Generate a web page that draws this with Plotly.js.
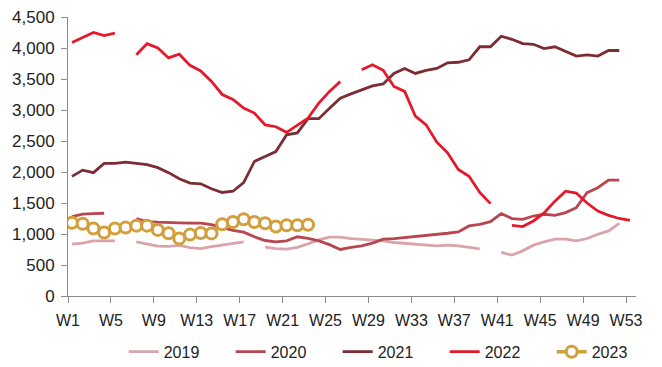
<!DOCTYPE html>
<html>
<head>
<meta charset="utf-8">
<script src="https://cdn.plot.ly/plotly-3.0.1.min.js"></script>
<style>
html,body{margin:0;padding:0;background:#fff;}
#chart{width:662px;height:367px;}
</style>
</head>
<body>
<div id="chart"></div>
<script>
// Week numbers
const weeks = Array.from({length: 53}, (_, i) => i + 1);
const tickWeeks = [1, 5, 9, 13, 17, 21, 25, 29, 33, 37, 41, 45, 49, 53];
const tickLabels = tickWeeks.map(w => 'W' + w);

const y2019 = [836, 852, 889, 889, 889, null, 873, 836, 805, 800, 815, 780, 765, 795, 820, 852, 873, null,
  790, 765, 755, 783, 840, 905, 950, 948, 927, 916, 905, 889, 863, 852, 836, 820, 809, 820, 809, 783, 760,
  null, 702, 659, 728, 820, 873, 916, 916, 889, 927, 996, 1050, 1173, null];
const y2020 = [1280, 1320, 1330, 1335, null, null, 1250, 1200, 1190, 1190, 1180, 1175, 1175, 1150, 1100, 1060,
  1030, 955, 895, 873, 889, 955, 930, 890, 828, 750, 783, 809, 852, 916, 927, 943, 959, 969, 996, 1012, 1033,
  1130, 1157, 1200, 1329, 1249, 1237, 1290, 1318, 1302, 1345, 1425, 1666, 1747, 1869, 1869, null];
const y2021 = [1930, 2030, 1990, 2140, 2140, 2160, 2140, 2120, 2070, 1990, 1890, 1820, 1810, 1730, 1670, 1690,
  1830, 2170, 2250, 2330, 2600, 2630, 2860, 2860, 3030, 3190, 3260, 3320, 3390, 3420, 3590, 3670, 3590, 3640,
  3670, 3760, 3770, 3810, 4020, 4020, 4190, 4140, 4070, 4060, 3990, 4020, 3940, 3870, 3890, 3870, 3960, 3960, null];
const y2022 = [4090, 4170, 4250, 4200, 4240, null, 3890, 4070, 4000, 3840, 3900, 3720, 3630, 3460, 3250, 3170,
  3030, 2950, 2760, 2730, 2640, 2750, 2870, 3110, 3300, 3460, null, 3650, 3730, 3640, 3380, 3300, 2900, 2760,
  2480, 2310, 2040, 1930, 1670, 1490, null, 1140, 1120, 1210, 1340, 1530, 1690, 1660, 1500, 1370, 1300, 1250, 1220];
const y2023 = [1180, 1165, 1088, 1023, 1088, 1104, 1135, 1135, 1066, 1012, 927, 990, 1017, 1010, 1157, 1194,
  1237, 1194, 1173, 1120, 1141, 1141, 1150];

const seriesNames = ['2019', '2020', '2021', '2022', '2023'];
const colors = ['#D8A4A9', '#B8464F', '#7B2D33', '#E5192B', '#D39E3C'];

const lineTrace = (name, y, color) => ({
  x: weeks.slice(0, y.length), y: y, name: name, type: 'scatter', mode: 'lines',
  line: {color: color, width: 2.8}, connectgaps: false, hoverinfo: 'x+y'
});

const data = [
  lineTrace(seriesNames[0], y2019, colors[0]),
  lineTrace(seriesNames[1], y2020, colors[1]),
  lineTrace(seriesNames[2], y2021, colors[2]),
  lineTrace(seriesNames[3], y2022, colors[3]),
  {
    x: weeks.slice(0, y2023.length), y: y2023, name: seriesNames[4], type: 'scatter', mode: 'lines+markers',
    line: {color: colors[4], width: 3.5},
    marker: {symbol: 'circle', size: 11, color: '#ffffff', line: {color: colors[4], width: 3}}
  }
];

const layout = {
  width: 662, height: 367,
  margin: {l: 68, r: 26, t: 17, b: 71, pad: 0, autoexpand: false},
  paper_bgcolor: '#ffffff', plot_bgcolor: '#ffffff',
  font: {family: 'Liberation Sans, Arial, sans-serif', size: 16, color: '#222222'},
  showlegend: true,
  xaxis: {
    range: [0.63, 53.56],
    tickmode: 'array',
    tickvals: tickWeeks.map(w => w - 0.37),
    ticktext: tickLabels,
    showgrid: false, zeroline: false,
    showline: true, linecolor: '#8c8c8c', linewidth: 1,
    ticks: 'outside', ticklen: 6, tickcolor: '#8c8c8c', tickwidth: 1,
    tickfont: {size: 16, color: '#222222'},
    ticklabelstandoff: 4,
    automargin: false
  },
  yaxis: {
    range: [0, 4500],
    tickmode: 'array',
    tickvals: [0, 500, 1000, 1500, 2000, 2500, 3000, 3500, 4000, 4500],
    tickformat: ',d',
    showgrid: false, zeroline: false,
    showline: true, linecolor: '#8c8c8c', linewidth: 1,
    ticks: 'outside', ticklen: 6, tickcolor: '#8c8c8c', tickwidth: 1,
    tickfont: {size: 17, color: '#222222'},
    ticklabelstandoff: 3,
    automargin: false
  },
  legend: {
    orientation: 'h', x: 0.569, xanchor: 'center', y: -0.2, yanchor: 'middle',
    font: {size: 16, color: '#222222'},
    entrywidth: 62, entrywidthmode: 'pixels',
    traceorder: 'normal'
  }
};

Plotly.newPlot('chart', data, layout, {displayModeBar: false, staticPlot: true});
</script>
</body>
</html>
